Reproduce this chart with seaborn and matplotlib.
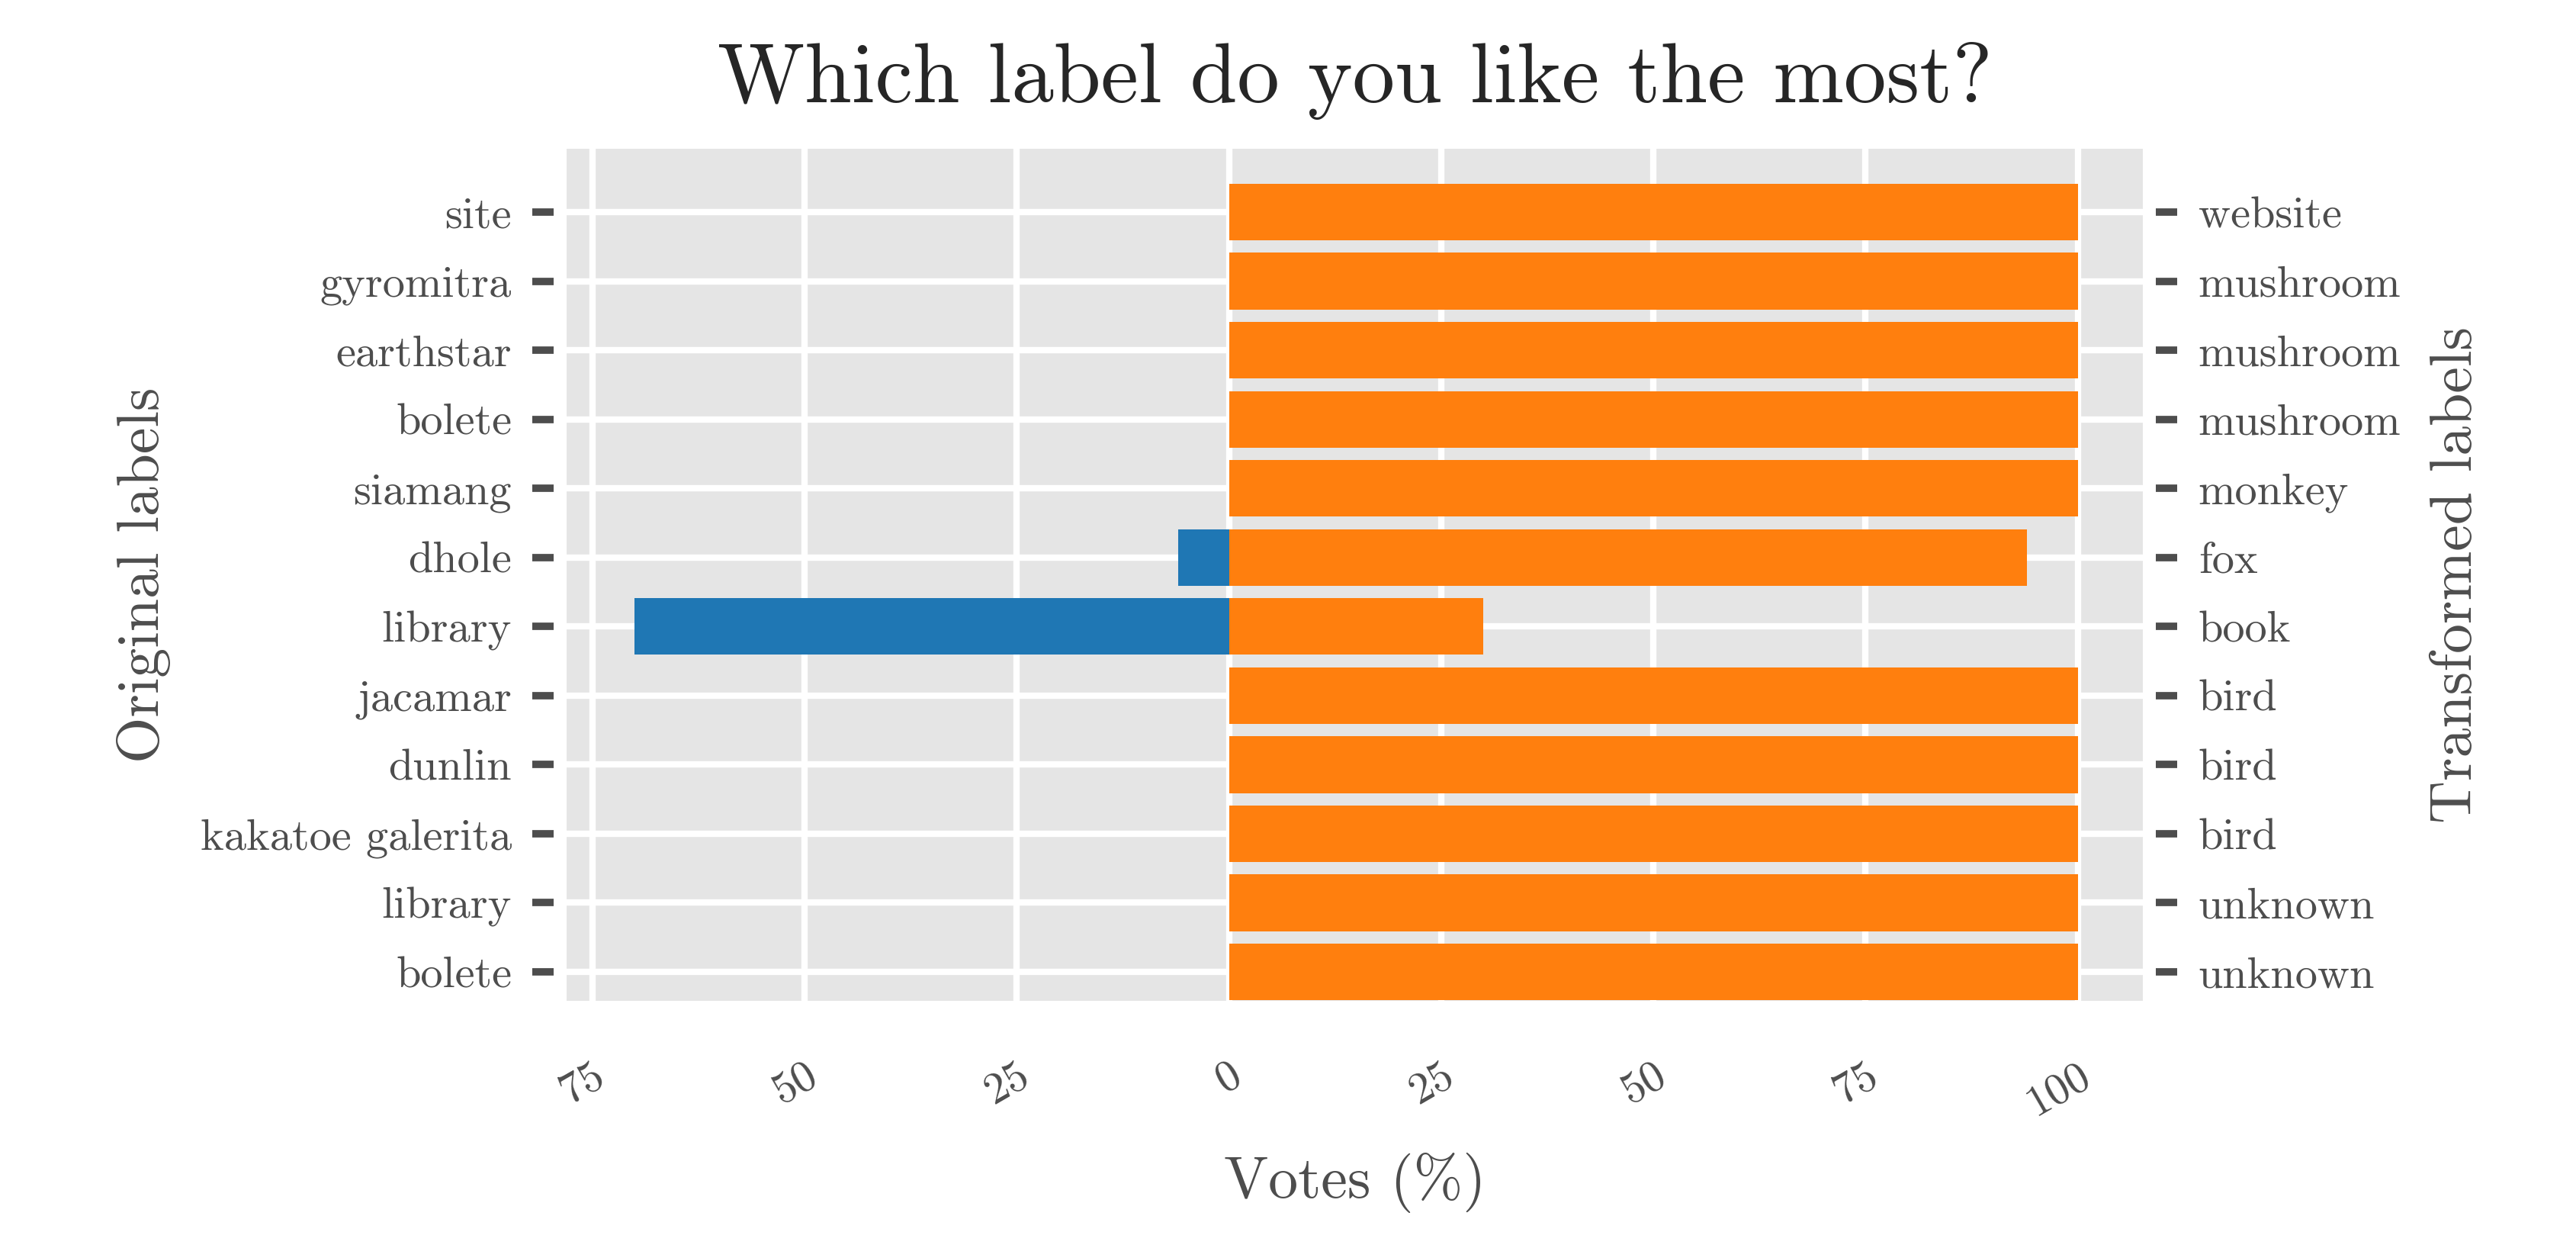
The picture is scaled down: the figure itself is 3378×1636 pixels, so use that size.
import numpy as np
import pandas as pd
import matplotlib.pyplot as plt
import seaborn as sns

original = ['site', 'gyromitra', 'earthstar', 'bolete', 'siamang', 'dhole',
            'library', 'jacamar', 'dunlin', 'kakatoe galerita', 'library', 'bolete']
transformed = ['website', 'mushroom', 'mushroom', 'mushroom', 'monkey', 'fox',
               'book', 'bird', 'bird', 'bird', 'unknown', 'unknown']
votes_transformed = [100, 100, 100, 100, 100, 94, 30, 100, 100, 100, 100, 100]
votes_original = [0, 0, 0, 0, 0, 6, 70, 0, 0, 0, 0, 0]

sns.set_style("darkgrid", {"axes.facecolor": "#e5e5e5", "grid.color": "white"})
plt.rcParams['font.family'] = ['cmr10', 'DejaVu Serif']
plt.rcParams['axes.formatter.use_mathtext'] = True
plt.rcParams['mathtext.fontset'] = 'cm'

keys = [str(i) for i in range(len(original))]
df = pd.DataFrame({'key': keys, 'trans': votes_transformed,
                   'orig': [-v for v in votes_original]})

fig = plt.figure(figsize=(16.89, 8.18), dpi=200)
ax = fig.add_axes([0.22, 0.198, 0.612, 0.683])
sns.barplot(data=df, y='key', x='trans', color='#ff7f0e', saturation=1,
            width=0.82, ax=ax, orient='h')
sns.barplot(data=df, y='key', x='orig', color='#1f77b4', saturation=1,
            width=0.82, ax=ax, orient='h')
for b in ax.patches:
    b.set_edgecolor('none')

ax.set_xlim(-78, 107.7)
ax.set_ylim(11.42, -0.92)
ticks = [-75, -50, -25, 0, 25, 50, 75, 100]
ax.set_xticks(ticks)
ax.set_xticklabels([str(abs(t)) for t in ticks])
ax.set_yticks(range(len(original)))
ax.set_yticklabels(original)
ax.grid(True, color='white', linewidth=3)
ax.set_axisbelow(True)

grey = '#4d4d4d'
for s in ax.spines.values():
    s.set_visible(False)
ax.spines['left'].set_position(('outward', 6))
ax.spines['bottom'].set_position(('outward', 6))
ax.tick_params(axis='both', colors=grey, labelcolor=grey, labelsize=21,
               length=10, width=3.5, direction='out', pad=10)
ax.set_xlabel('Votes (%)', fontsize=28, color=grey, labelpad=14)
ax.set_ylabel('Original labels', fontsize=28, color=grey, labelpad=14)

ax2 = ax.twinx()
ax2.set_ylim(ax.get_ylim())
ax2.set_yticks(range(len(transformed)))
ax2.set_yticklabels(transformed)
ax2.grid(False)
for s in ax2.spines.values():
    s.set_visible(False)
ax2.spines['right'].set_position(('outward', 6))
ax2.tick_params(axis='y', colors=grey, labelcolor=grey, labelsize=21,
                length=10, width=3.5, pad=10)
ax2.set_ylabel('Transformed labels', fontsize=28, color=grey, labelpad=14)

for lab in ax.get_xticklabels():
    lab.set_rotation(30)
    lab.set_ha('right')
    lab.set_rotation_mode('anchor')

ax.set_title('Which label do you like the most?', fontsize=40, pad=22)
fig.savefig('out.png', dpi=200)
